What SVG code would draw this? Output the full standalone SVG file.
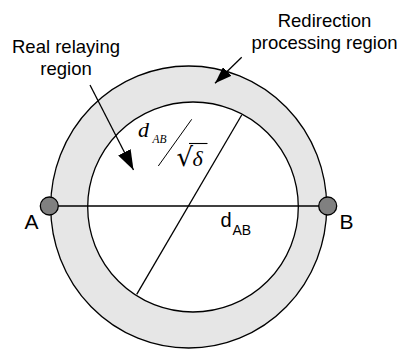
<svg xmlns="http://www.w3.org/2000/svg" width="401" height="350" viewBox="0 0 401 350">
<style>
.lbl{font-family:"Liberation Sans",Arial,sans-serif;fill:#000}
.math{font-family:"Liberation Serif","Times New Roman",serif;font-style:italic;fill:#000}
.ln{stroke:#000;stroke-width:1.3;fill:none}
</style>
<defs>
<marker id="ah" viewBox="0 0 20 14" refX="20" refY="7" markerWidth="20" markerHeight="14" markerUnits="userSpaceOnUse" orient="auto">
<path d="M0,0 L20,7 L0,14 Z" fill="#000"/>
</marker>
<marker id="ah2" viewBox="0 0 17 12" refX="17" refY="6" markerWidth="17" markerHeight="12" markerUnits="userSpaceOnUse" orient="auto">
<path d="M0,0 L17,6 L0,12 Z" fill="#000"/>
</marker>
</defs>
<g id="ring">
<ellipse cx="188.7" cy="207" rx="138" ry="141" fill="#e6e6e6" stroke="#000" stroke-width="1.3"/>
<ellipse cx="193" cy="207" rx="105.3" ry="105" fill="#fff" stroke="#000" stroke-width="1.3"/>
</g>
<g id="connectors">
<line class="ln" x1="49" y1="206" x2="328" y2="206"/>
<line class="ln" x1="136.7" y1="294.3" x2="241.7" y2="115"/>
<line class="ln" x1="90" y1="85" x2="133.5" y2="170" marker-end="url(#ah)"/>
<line class="ln" x1="241.7" y1="57.3" x2="215" y2="83.3" marker-end="url(#ah2)"/>
</g>
<g id="nodeA">
<circle cx="49.3" cy="206" r="9" fill="#808080" stroke="#000" stroke-width="1.3"/>
<text class="lbl" x="31.5" y="229" font-size="21" text-anchor="middle">A</text>
</g>
<g id="nodeB">
<circle cx="327.7" cy="206" r="9" fill="#808080" stroke="#000" stroke-width="1.3"/>
<text class="lbl" x="346.5" y="229" font-size="21" text-anchor="middle">B</text>
</g>
<g id="dAB">
<text class="lbl" x="220.5" y="227" font-size="20">d</text>
<text class="lbl" x="232.5" y="235" font-size="14">AB</text>
</g>
<g id="fraction">
<text class="math" x="138" y="137" font-size="22">d</text>
<text class="math" x="152.5" y="143" font-size="11.5">AB</text>
<line x1="191.7" y1="119.3" x2="158.3" y2="166" stroke="#000" stroke-width="1"/>
<text x="176.5" y="166" font-size="26" font-family="'DejaVu Serif','Liberation Serif',serif" fill="#000">√</text>
<line x1="189" y1="143.5" x2="207.5" y2="143.5" stroke="#000" stroke-width="1.1"/>
<text class="math" x="192.5" y="166" font-size="22">δ</text>
</g>
<g id="label-real">
<text class="lbl" x="66" y="53" font-size="18.5" text-anchor="middle">Real relaying</text>
<text class="lbl" x="66" y="75" font-size="18.5" text-anchor="middle">region</text>
</g>
<g id="label-redirection">
<text class="lbl" x="324.5" y="27" font-size="18.5" text-anchor="middle">Redirection</text>
<text class="lbl" x="324.5" y="49" font-size="18.5" text-anchor="middle">processing region</text>
</g>
</svg>
